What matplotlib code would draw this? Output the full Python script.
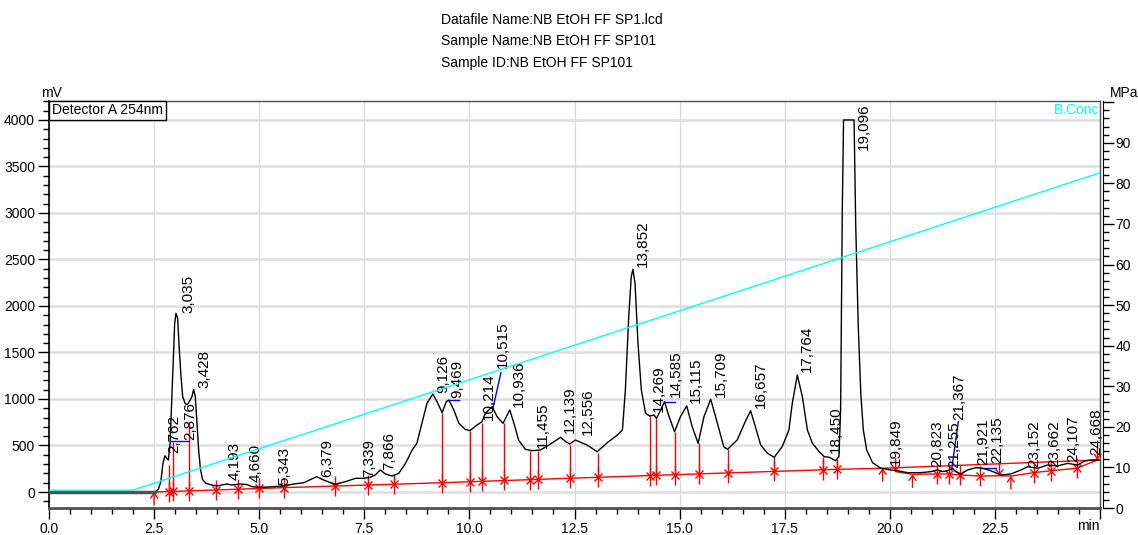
import matplotlib
matplotlib.use("Agg")
import matplotlib.pyplot as plt
from matplotlib.ticker import MultipleLocator, FuncFormatter
from matplotlib.patches import Rectangle

plt.rcParams["font.family"] = ["Liberation Sans", "DejaVu Sans"]

# detector trace (min, mV)
trace_t = [0.00, 2.52, 2.60, 2.66, 2.71, 2.76, 2.80, 2.84, 2.88, 2.92, 2.96, 2.99, 3.02, 3.06,
           3.10, 3.14, 3.18, 3.24, 3.29, 3.36, 3.40, 3.44, 3.48, 3.52, 3.56, 3.60, 3.65, 3.73,
           3.87, 3.99, 4.23, 4.35, 4.55, 4.71, 4.83, 5.02, 5.34, 5.58, 5.82, 6.06, 6.37, 6.53,
           6.81, 7.05, 7.29, 7.48, 7.64, 7.76, 7.88, 8.00, 8.16, 8.32, 8.48, 8.64, 8.75, 8.87,
           8.99, 9.13, 9.25, 9.35, 9.45, 9.51, 9.63, 9.75, 9.90, 10.01, 10.18, 10.30, 10.38,
           10.54, 10.66, 10.80, 10.96, 11.06, 11.17, 11.33, 11.49, 11.69, 11.89, 12.17, 12.29,
           12.39, 12.52, 12.80, 13.04, 13.28, 13.52, 13.64, 13.71, 13.79, 13.85, 13.89, 13.94,
           14.01, 14.09, 14.19, 14.29, 14.39, 14.45, 14.55, 14.64, 14.75, 14.88, 15.02, 15.17,
           15.30, 15.44, 15.58, 15.74, 15.90, 16.05, 16.14, 16.37, 16.57, 16.69, 16.81, 16.93,
           17.09, 17.25, 17.44, 17.60, 17.68, 17.80, 17.92, 18.04, 18.16, 18.32, 18.44, 18.56,
           18.71, 18.79, 18.83, 18.87, 18.90, 19.15, 19.19, 19.25, 19.31, 19.37, 19.45, 19.59,
           19.79, 20.02, 20.18, 20.42, 20.74, 20.98, 21.13, 21.25, 21.37, 21.49, 21.57, 21.69,
           21.85, 22.05, 22.21, 22.40, 22.64, 22.88, 23.12, 23.28, 23.52, 23.75, 23.99, 24.23,
           24.47, 24.63, 24.79, 25.00]
trace_mv = [0, 0, 29, 111, 308, 390, 362, 344, 523, 989, 1455, 1814, 1921, 1867,
            1527, 1240, 1025, 950, 940, 989, 1025, 1104, 1025, 738, 452, 255, 136, 94,
            75, 65, 86, 75, 86, 80, 57, 50, 57, 65, 86, 100, 165, 129,
            82, 111, 147, 147, 158, 183, 237, 194, 172, 201, 308, 452, 523, 738,
            953, 1054, 953, 853, 971, 989, 882, 738, 674, 659, 720, 756, 846,
            917, 810, 738, 882, 738, 559, 459, 444, 452, 505, 588, 541,
            516, 559, 505, 433, 530, 613, 667, 1097, 1885, 2315, 2394, 2244,
            1599, 1097, 846, 817, 828, 792, 882, 971, 810, 648, 810, 925,
            702, 523, 810, 997, 738, 487, 459, 559, 765, 874, 690, 505,
            416, 373, 487, 667, 953, 1258, 1025, 667, 523, 434, 380, 373,
            337, 380, 882, 3032, 4000, 4000, 2853, 1778, 1061, 667, 452, 315,
            255, 237, 229, 208, 208, 219, 237, 219, 229, 255, 219, 194,
            237, 262, 255, 229, 183, 194, 237, 272, 255, 290, 280, 308,
            290, 333, 344, 344]

# B.Conc program (min, MPa axis)
conc_t = [0.0, 2.0, 25.0]
conc_v = [4.4, 4.4, 82.6]

# integration baseline
base_t = [2.50, 2.86, 5.60, 9.36, 13.05, 16.14, 18.75, 19.83, 24.94]
base_mv = [0, 5, 47, 100, 158, 205, 244, 255, 344]
low_t = [20.14, 20.54, 21.13, 21.40, 21.66, 22.15, 22.61, 22.88, 23.43, 23.83, 24.45, 24.94]
low_mv = [219, 190, 194, 194, 183, 172, 175, 172, 208, 229, 255, 344]

# peak boundaries: time, baseline level, top of drop line
drop_t = [2.86, 2.94, 3.33, 3.98, 4.49, 5.00, 5.60, 6.81, 7.58, 8.21, 9.36, 10.01, 10.29,
          10.82, 11.45, 11.63, 12.40, 13.05, 14.29, 14.44, 14.89, 15.46, 16.14, 17.25,
          18.42, 18.75]
drop_base = [5, 7, 12, 22, 30, 38, 47, 65, 76, 86, 100, 111, 115, 124, 133, 136, 148, 158,
             177, 180, 186, 195, 205, 221, 239, 244]
drop_top = [290, 541, 756, 65, 86, 50, 65, 82, 150, 172, 853, 659, 745, 738, 444, 444, 505,
            423, 817, 792, 648, 523, 459, 373, 380, 344]
late_t = [21.13, 21.40, 21.66, 22.15, 23.43, 23.83, 24.45]
late_mv = [194, 194, 183, 172, 208, 229, 255]

up_t = [2.50, 19.83, 20.54, 22.88]
up_mv = [0, 255, 190, 172]
down_t = [20.14, 22.61, 24.94]
down_mv = [219, 175, 344]

# skimming segments (blue)
blue_t0 = [2.90, 9.51, 10.56, 14.64, 21.47, 22.17]
blue_v0 = [549, 989, 900, 971, 237, 255]
blue_t1 = [3.34, 9.75, 10.75, 14.90, 21.63, 22.52]
blue_v1 = [549, 989, 1283, 971, 756, 255]

peak_labels = ["2,762", "2,876", "3,035", "3,428", "4,193", "4,660", "5,343", "6,379",
               "7,339", "7,866", "9,126", "9,469", "10,214", "10,515", "10,936", "11,455",
               "12,139", "12,556", "13,852", "14,269", "14,585", "15,115", "15,709",
               "16,657", "17,764", "18,450", "19,096", "19,849", "20,823", "21,255",
               "21,367", "21,921", "22,135", "23,152", "23,662", "24,107", "24,668"]
label_t = [2.81, 3.19, 3.16, 3.52, 4.26, 4.76, 5.42, 6.45, 7.44, 7.92, 9.21, 9.55, 10.30,
           10.62, 11.02, 11.57, 12.22, 12.64, 13.95, 14.35, 14.75, 15.22, 15.82, 16.77,
           17.86, 18.56, 19.21, 19.98, 20.96, 21.37, 21.49, 22.05, 22.40, 23.28, 23.75,
           24.19, 24.75]
label_mv = [420, 559, 1928, 1118, 129, 111, 75, 165, 165, 237, 1061, 1007, 774, 1330, 917,
            470, 631, 613, 2420, 864, 1025, 953, 1025, 900, 1294, 416, 3677, 290, 272, 255,
            774, 290, 308, 272, 272, 326, 398]

title_lines = ["Datafile Name:NB EtOH FF SP1.lcd",
               "Sample Name:NB EtOH FF SP101",
               "Sample ID:NB EtOH FF SP101"]

W, H = 1138, 535
fig = plt.figure(figsize=(W / 100, H / 100), dpi=100)
ax = fig.add_axes([49 / W, 1 - 508 / H, (1100 - 49) / W, (508 - 101) / H])
ax.set_xlim(0, 25)
ax.set_ylim(-172, 4204)
ax.set_axisbelow(True)

ax.grid(axis="y", which="major", color="#dedede", lw=1.8)
ax.grid(axis="x", which="major", color="#d8d8d8", lw=0.9)

red = "#ff0000"
ax.plot(base_t, base_mv, color=red, lw=1, zorder=3)
ax.plot(low_t, low_mv, color=red, lw=1, zorder=3)
ax.vlines(drop_t, drop_base, drop_top, colors=red, lw=1, zorder=3)
for tt, bb in ((drop_t, drop_base), (late_t, late_mv)):
    ax.plot(tt, bb, ls="none", marker="x", ms=6, mew=1, color=red, zorder=3)
    ax.plot(tt, bb, ls="none", marker="|", ms=14, mew=1, color=red, zorder=3)
arrow = dict(arrowstyle="->,head_length=0.35,head_width=0.25", color=red, lw=1,
             shrinkA=0, shrinkB=0)
for t, v in zip(up_t, up_mv):
    ax.annotate("", xy=(t, v), xytext=(0, -13), textcoords="offset pixels", arrowprops=arrow)
for t, v in zip(down_t, down_mv):
    ax.annotate("", xy=(t, v), xytext=(0, 13), textcoords="offset pixels", arrowprops=arrow)

for t0, v0, t1, v1 in zip(blue_t0, blue_v0, blue_t1, blue_v1):
    ax.plot([t0, t1], [v0, v1], color="#0000ff", lw=1, zorder=4)

ax.plot(trace_t, trace_mv, color="black", lw=1, zorder=4)
n_flat = next(i for i, t in enumerate(trace_t) if t > 2.5) + 1
ax.plot(trace_t[:n_flat], trace_mv[:n_flat], color="#505050", lw=2.5, zorder=4)

for s, t, v in zip(peak_labels, label_t, label_mv):
    ax.text(t, v, s, rotation=90, ha="left", va="bottom", fontsize=11, zorder=5)

ax2 = ax.twinx()
ax2.set_ylim(0, 100.3)
ax2.plot(conc_t, conc_v, color="#00ffff", lw=1)
for side in ("left", "top", "bottom"):
    ax2.spines[side].set_visible(False)
ax2.spines["right"].set_position(("outward", 2))
ax2.spines["right"].set_color("black")
ax2.yaxis.set_major_locator(MultipleLocator(10))
ax2.yaxis.set_minor_locator(MultipleLocator(2))
ax2.yaxis.set_major_formatter(FuncFormatter(lambda v, p: "" if v > 95 else f"{v:.0f}"))
ax2.tick_params(which="major", direction="out", length=8, width=1, labelsize=10, pad=1)
ax2.tick_params(which="minor", direction="out", length=4, width=1)

ax.xaxis.set_major_locator(MultipleLocator(2.5))
ax.xaxis.set_minor_locator(MultipleLocator(0.5))
ax.xaxis.set_major_formatter(FuncFormatter(lambda v, p: "" if v > 24 else f"{v:.1f}"))
ax.yaxis.set_major_locator(MultipleLocator(500))
ax.yaxis.set_minor_locator(MultipleLocator(100))
ax.tick_params(which="major", direction="out", length=8, width=1, labelsize=10, pad=2)
ax.tick_params(which="minor", direction="out", length=4, width=1)
ax.tick_params(axis="x", which="both", top=False)
ax.tick_params(axis="y", which="both", right=False)

for side in ("top", "right"):
    ax.spines[side].set_color("#505050")
    ax.spines[side].set_linewidth(1)
ax.spines["left"].set_color("black")
ax.spines["left"].set_linewidth(1.2)
ax.spines["bottom"].set_color("#505050")
ax.spines["bottom"].set_linewidth(2)

ax.add_patch(Rectangle((0, 1 - 19 / 407), 117 / 1051, 19 / 407, transform=ax.transAxes,
                       facecolor="white", edgecolor="black", lw=1, zorder=6, clip_on=False))
ax.text(3 / 1051, 1 - 9.5 / 407, "Detector A 254nm", transform=ax.transAxes,
        ha="left", va="center", fontsize=10, zorder=7)
ax.text(0.999, 0.978, "B.Conc", transform=ax.transAxes, ha="right", va="center",
        color="#00ffff", fontsize=10, zorder=7)
ax.text(1.0, -0.043, "min", transform=ax.transAxes, ha="right", va="center", fontsize=10)

fig.text(51 / W, 1 - 93 / H, "mV", ha="center", va="center", fontsize=10)
fig.text(1124 / W, 1 - 93 / H, "MPa", ha="center", va="center", fontsize=10)
for i, line in enumerate(title_lines):
    fig.text(441 / W, 1 - (20 + 21.5 * i) / H, line, ha="left", va="center", fontsize=10)

fig.savefig("out.png", dpi=100)
